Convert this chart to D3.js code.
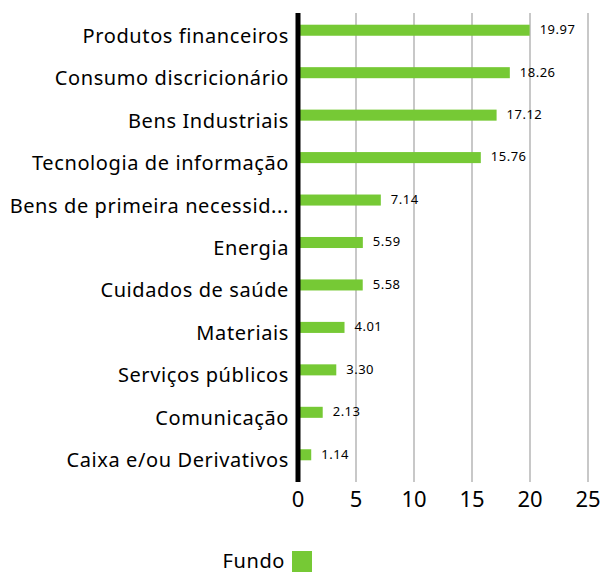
<!DOCTYPE html>
<html>
<head>
<meta charset="utf-8">
<script src="https://cdn.jsdelivr.net/npm/d3@7"></script>
<style>
  body { margin: 0; background: #fff; }
  text { font-family: "Noto Sans", "Open Sans", sans-serif; fill: #000; }
</style>
</head>
<body>
<div id="chart"></div>
<script>
// data
var categories = ["Produtos financeiros", "Consumo discricionário", "Bens Industriais",
    "Tecnologia de informação", "Bens de primeira necessid...", "Energia",
    "Cuidados de saúde", "Materiais", "Serviços públicos", "Comunicação",
    "Caixa e/ou Derivativos"];
var fundo = [19.97, 18.26, 17.12, 15.76, 7.14, 5.59, 5.58, 4.01, 3.30, 2.13, 1.14];
var xTicks = [0, 5, 10, 15, 20, 25];
var seriesName = "Fundo";

var W = 601, H = 574;
var x0 = 298, x1 = 588;
var color = "#76c935";

var svg = d3.select("#chart")
    .append("svg")
    .attr("width", W)
    .attr("height", H);

var x = d3.scaleLinear()
    .domain([0, 25])
    .range([x0, x1]);

var y = d3.scaleBand()
    .domain(categories)
    .range([9, 476])
    .paddingInner(0.74)
    .paddingOuter(0.37);

// gridlines
svg.append("g")
    .selectAll("line")
    .data(xTicks.slice(1))
    .enter().append("line")
    .attr("x1", function (d) { return x(d); })
    .attr("x2", function (d) { return x(d); })
    .attr("y1", 13)
    .attr("y2", 482)
    .attr("stroke", "#c8c8c8")
    .attr("stroke-width", 2);

// bars
svg.append("g")
    .selectAll("rect")
    .data(fundo)
    .enter().append("rect")
    .attr("x", x(0))
    .attr("y", function (d, i) { return y(categories[i]); })
    .attr("width", function (d) { return x(d) - x(0); })
    .attr("height", y.bandwidth())
    .attr("fill", color);

// value labels
svg.append("g")
    .selectAll("text")
    .data(fundo)
    .enter().append("text")
    .attr("x", function (d) { return x(d) + 10; })
    .attr("y", function (d, i) { return y(categories[i]) + y.bandwidth() / 2; })
    .attr("dy", "0.3em")
    .style("font-size", "13px")
    .style("letter-spacing", "0.5px")
    .text(function (d) { return d.toFixed(2); });

// category labels
svg.append("g")
    .selectAll("text")
    .data(categories)
    .enter().append("text")
    .attr("x", 289)
    .attr("y", function (d) { return y(d) + y.bandwidth() / 2 + 12.5; })
    .attr("text-anchor", "end")
    .style("font-size", "20px")
    .style("letter-spacing", "0.6px")
    .text(function (d) { return d; });

// y axis line
svg.append("line")
    .attr("x1", x(0)).attr("x2", x(0))
    .attr("y1", 13).attr("y2", 482)
    .attr("stroke", "#000")
    .attr("stroke-width", 5);

// x tick labels
svg.append("g")
    .selectAll("text")
    .data(xTicks)
    .enter().append("text")
    .attr("x", function (d) { return x(d); })
    .attr("y", 507)
    .attr("text-anchor", "middle")
    .style("font-size", "22px")
    .text(function (d) { return d; });

// legend
var legend = svg.append("g");
legend.append("text")
    .attr("x", 285)
    .attr("y", 568)
    .attr("text-anchor", "end")
    .style("font-size", "20px")
    .style("letter-spacing", "0.6px")
    .text(seriesName);
legend.append("rect")
    .attr("x", 292)
    .attr("y", 551)
    .attr("width", 20)
    .attr("height", 21)
    .attr("fill", color);
</script>
</body>
</html>
